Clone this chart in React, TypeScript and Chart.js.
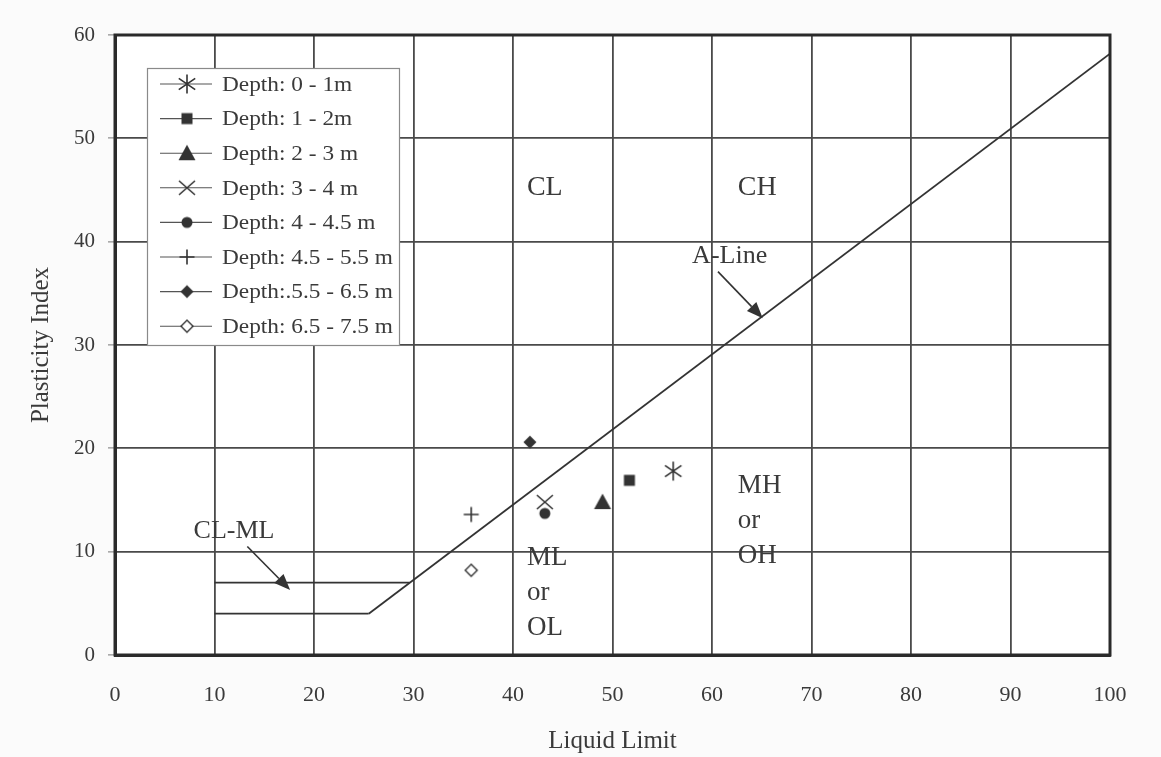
import React, { useEffect, useRef } from 'react';
import { Chart, registerables } from 'chart.js';

Chart.register(...registerables);

// ---- data ----
const depthLabels = [
  'Depth: 0 - 1m',
  'Depth: 1 - 2m',
  'Depth: 2 - 3 m',
  'Depth: 3 - 4 m',
  'Depth: 4 - 4.5 m',
  'Depth: 4.5 - 5.5 m',
  'Depth:.5.5 - 6.5 m',
  'Depth: 6.5 - 7.5 m',
];
const markerKinds = ['asterisk', 'square', 'triangle', 'xcross', 'dot', 'plus', 'diamond', 'openDiamond'];
const liquidLimit = [56.1, 51.7, 49.0, 43.2, 43.2, 35.8, 41.7, 35.8];
const plasticityIndex = [17.8, 16.9, 14.8, 14.8, 13.7, 13.6, 20.6, 8.2];

const aLineLL = [25.5, 100];
const aLinePI = [4, 58.2];
const clmlUpperLL = [10, 29.6];
const clmlUpperPI = [7, 7];
const clmlLowerLL = [10, 25.5];
const clmlLowerPI = [4, 4];

const xTickValues = [0, 10, 20, 30, 40, 50, 60, 70, 80, 90, 100];
const yTickValues = [0, 10, 20, 30, 40, 50, 60];

// zone labels: [text, LL (left), PI (baseline), font size]
const zoneLabels: [string, number, number, number][] = [
  ['CL', 41.4, 44.5, 28],
  ['CH', 62.6, 44.5, 28],
  ['A-Line', 58.0, 37.9, 26],
  ['CL-ML', 7.9, 11.3, 26],
  ['ML', 41.4, 8.7, 27],
  ['or', 41.4, 5.3, 27],
  ['OL', 41.4, 1.9, 27],
  ['MH', 62.6, 15.7, 27],
  ['or', 62.6, 12.3, 27],
  ['OH', 62.6, 8.9, 27],
];
// arrows: [fromLL, fromPI, toLL, toPI]
const arrows: [number, number, number, number][] = [
  [60.6, 37.1, 65.1, 32.6],
  [13.3, 10.5, 17.6, 6.3],
];

const INK = '#333333';
const TEXT = '#3a3a3a';
const FONT = '"Liberation Serif", "Times New Roman", serif';

function makeMarker(kind: string): HTMLCanvasElement {
  const c = document.createElement('canvas');
  c.width = 24;
  c.height = 24;
  const g = c.getContext('2d')!;
  g.translate(12, 12);
  g.strokeStyle = INK;
  g.fillStyle = INK;
  g.lineWidth = 1.6;
  g.lineCap = 'butt';
  g.beginPath();
  switch (kind) {
    case 'asterisk': {
      const r = 10;
      g.moveTo(0, -r * 0.95); g.lineTo(0, r * 0.95);
      const a = Math.PI / 5.2;
      g.moveTo(-r * Math.cos(a), -r * Math.sin(a)); g.lineTo(r * Math.cos(a), r * Math.sin(a));
      g.moveTo(-r * Math.cos(a), r * Math.sin(a)); g.lineTo(r * Math.cos(a), -r * Math.sin(a));
      g.stroke();
      break;
    }
    case 'square':
      g.fillRect(-5.5, -5.5, 11, 11);
      break;
    case 'triangle':
      g.moveTo(0, -8.5); g.lineTo(8.5, 7); g.lineTo(-8.5, 7); g.closePath();
      g.fill();
      break;
    case 'xcross':
      g.moveTo(-8, -7); g.lineTo(8, 7);
      g.moveTo(-8, 7); g.lineTo(8, -7);
      g.stroke();
      break;
    case 'dot':
      g.arc(0, 0, 5.5, 0, Math.PI * 2);
      g.fill();
      break;
    case 'plus':
      g.moveTo(-7.5, 0); g.lineTo(7.5, 0);
      g.moveTo(0, -7.5); g.lineTo(0, 7.5);
      g.stroke();
      break;
    case 'diamond':
      g.moveTo(0, -6.5); g.lineTo(6.5, 0); g.lineTo(0, 6.5); g.lineTo(-6.5, 0); g.closePath();
      g.fill();
      break;
    case 'openDiamond':
      g.moveTo(0, -6); g.lineTo(6, 0); g.lineTo(0, 6); g.lineTo(-6, 0); g.closePath();
      g.fillStyle = '#ffffff';
      g.fill();
      g.lineWidth = 1.4;
      g.stroke();
      break;
  }
  return c;
}

export default function App() {
  const ref = useRef<HTMLCanvasElement>(null);

  useEffect(() => {
    if (!ref.current) return;
    const markers = markerKinds.map(makeMarker);

    const pointSets = depthLabels.map((label, i) => ({
      label,
      data: [{ x: liquidLimit[i], y: plasticityIndex[i] }],
      pointStyle: markers[i] as any,
      pointRadius: 10,
      showLine: false,
      isDepth: true,
    }));
    const lineSet = (label: string, xs: number[], ys: number[]) => ({
      label,
      data: xs.map((x, i) => ({ x, y: ys[i] })),
      showLine: true,
      borderColor: INK,
      borderWidth: 1.8,
      pointRadius: 0,
      isDepth: false,
    });

    const overlay = {
      id: 'overlay',
      beforeDraw(chart: any) {
        const { ctx, chartArea: a } = chart;
        ctx.save();
        ctx.fillStyle = '#fbfbfb';
        ctx.fillRect(0, 0, chart.width, chart.height);
        ctx.fillStyle = '#ffffff';
        ctx.fillRect(a.left, a.top, a.right - a.left, a.bottom - a.top);
        ctx.restore();
      },
      afterDraw(chart: any) {
        const { ctx, chartArea: a, scales } = chart;
        const xs = scales.x, ys = scales.y;
        ctx.save();
        // plot frame
        ctx.strokeStyle = '#2a2a2a';
        ctx.lineWidth = 3;
        ctx.strokeRect(a.left, a.top, a.right - a.left, a.bottom - a.top);
        // zone labels
        ctx.fillStyle = TEXT;
        ctx.textAlign = 'left';
        ctx.textBaseline = 'alphabetic';
        zoneLabels.forEach(([t, x, y, s]) => {
          ctx.font = `${s}px ${FONT}`;
          ctx.fillText(t, xs.getPixelForValue(x), ys.getPixelForValue(y));
        });
        // arrows
        ctx.strokeStyle = INK;
        ctx.fillStyle = INK;
        ctx.lineWidth = 1.6;
        arrows.forEach(([x0, y0, x1, y1]) => {
          const px0 = xs.getPixelForValue(x0), py0 = ys.getPixelForValue(y0);
          const px1 = xs.getPixelForValue(x1), py1 = ys.getPixelForValue(y1);
          const ang = Math.atan2(py1 - py0, px1 - px0);
          const hl = 16, hw = 6.5;
          const bx = px1 - hl * Math.cos(ang), by = py1 - hl * Math.sin(ang);
          ctx.beginPath();
          ctx.moveTo(px0, py0);
          ctx.lineTo(bx, by);
          ctx.stroke();
          ctx.beginPath();
          ctx.moveTo(px1, py1);
          ctx.lineTo(bx + hw * Math.sin(ang), by - hw * Math.cos(ang));
          ctx.lineTo(bx - hw * Math.sin(ang), by + hw * Math.cos(ang));
          ctx.closePath();
          ctx.fill();
        });
        // legend box
        const lx = a.left + 32, ly = a.top + 33, lw = 252, lh = 277;
        ctx.fillStyle = '#ffffff';
        ctx.fillRect(lx, ly, lw, lh);
        ctx.strokeStyle = '#8a8a8a';
        ctx.lineWidth = 1.2;
        ctx.strokeRect(lx + 0.5, ly + 0.5, lw, lh);
        ctx.font = `22px ${FONT}`;
        ctx.textBaseline = 'middle';
        const depthSets = chart.data.datasets.filter((d: any) => d.isDepth);
        depthSets.forEach((d: any, i: number) => {
          const cy = ly + 16 + i * 34.6;
          ctx.strokeStyle = '#555';
          ctx.lineWidth = 1.1;
          ctx.beginPath();
          ctx.moveTo(lx + 13, cy);
          ctx.lineTo(lx + 65, cy);
          ctx.stroke();
          const m = d.pointStyle as HTMLCanvasElement;
          ctx.fillStyle = '#ffffff';
          if (i === 7) {
            ctx.beginPath();
            ctx.arc(lx + 40, cy, 5, 0, Math.PI * 2);
            ctx.fill();
          }
          ctx.drawImage(m, lx + 40 - m.width / 2, cy - m.height / 2);
          ctx.fillStyle = TEXT;
          ctx.save();
          ctx.translate(lx + 75, cy + 1);
          ctx.scale(1.06, 1);
          ctx.fillText(d.label, 0, 0);
          ctx.restore();
        });
        ctx.restore();
      },
    };

    const chart = new Chart(ref.current, {
      type: 'scatter',
      data: {
        datasets: [
          ...pointSets,
          lineSet('A-Line', aLineLL, aLinePI),
          lineSet('CL-ML upper', clmlUpperLL, clmlUpperPI),
          lineSet('CL-ML lower', clmlLowerLL, clmlLowerPI),
        ] as any,
      },
      options: {
        responsive: false,
        animation: false,
        devicePixelRatio: 1,
        layout: { padding: { top: 35, right: 51, left: 0, bottom: 0 } },
        plugins: { legend: { display: false }, tooltip: { enabled: false } },
        scales: {
          x: {
            type: 'linear',
            min: 0,
            max: 100,
            afterFit(s: any) { s.height = 102; },
            afterBuildTicks(s: any) { s.ticks = xTickValues.map((v) => ({ value: v })); },
            ticks: { color: TEXT, font: { family: FONT, size: 22 }, padding: 27 },
            grid: { color: '#4a4a4a', lineWidth: 1.8, drawTicks: false },
            border: { color: '#2a2a2a', width: 3 },
            title: {
              display: true,
              text: 'Liquid Limit',
              color: TEXT,
              font: { family: FONT, size: 25 },
              padding: { top: 0, bottom: 1 },
            },
          },
          y: {
            type: 'linear',
            min: 0,
            max: 60,
            afterFit(s: any) { s.width = 115; },
            afterBuildTicks(s: any) { s.ticks = yTickValues.map((v) => ({ value: v })); },
            ticks: { color: TEXT, font: { family: FONT, size: 21 }, padding: 13 },
            grid: { color: '#4a4a4a', lineWidth: 1.8, drawTicks: true, tickLength: 7, tickColor: '#777', tickWidth: 1 },
            border: { color: '#2a2a2a', width: 3 },
            title: {
              display: true,
              text: 'Plasticity Index',
              color: TEXT,
              font: { family: FONT, size: 25 },
              padding: { top: 26, bottom: 0 },
            },
          },
        },
      },
      plugins: [overlay],
    } as any);

    return () => chart.destroy();
  }, []);

  return (
    <div style={{ position: 'absolute', left: 0, top: 0, width: 1161, height: 757, background: '#fbfbfb' }}>
      <canvas ref={ref} width={1161} height={757} style={{ display: 'block' }} />
    </div>
  );
}
